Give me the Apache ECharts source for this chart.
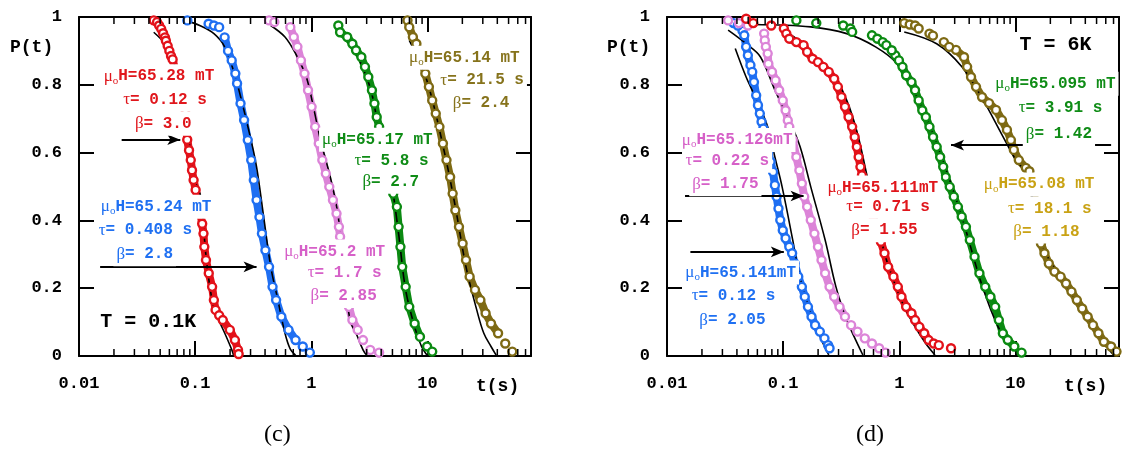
<!DOCTYPE html>
<html><head><meta charset="utf-8">
<script src="https://cdn.jsdelivr.net/npm/echarts@6/dist/echarts.min.js"></script>
<style>html,body{margin:0;padding:0;background:#fff}#main{width:1125px;height:457px}</style>
</head><body><div id="main"></div>
<script>
// ================= DATA =================
const xTickValues = [0.01, 0.1, 1, 10];
const xTickLabels = ['0.01', '0.1', '1', '10'];
const yTickLabels = ['0', '0.2', '0.4', '0.6', '0.8', '1'];
const minorTickValues = [0.02,0.03,0.04,0.05,0.06,0.07,0.08,0.09,0.2,0.3,0.4,0.5,0.6,0.7,0.8,0.9,2,3,4,5,6,7,8,9,20,30,40,50,60,70];

// ---- panel (c), T = 0.1 K ----
const c_red_pts = [[0.044,0.99],[0.047,0.985],[0.049,0.975],[0.051,0.965],[0.053,0.952],[0.055,0.94],[0.056,0.93],[0.058,0.915],[0.060,0.90],[0.062,0.885],[0.064,0.875],
  [0.0826,0.715],[0.0838,0.676],[0.0855,0.638],[0.0886,0.607],[0.0917,0.578],[0.094,0.548],[0.097,0.519],[0.101,0.49],[0.106,0.46],[0.110,0.43],
  [0.115,0.39],[0.118,0.361],[0.120,0.322],[0.124,0.283],[0.131,0.244],[0.140,0.204],[0.145,0.165],[0.150,0.136],[0.161,0.12],[0.173,0.106],[0.199,0.077],[0.22,0.047],[0.234,0.018],[0.237,0.006]];
const c_red_open = [];
const c_red_fit = [[0.044,0.955],[0.055,0.92],[0.066,0.862],[0.08,0.72],[0.088,0.64],[0.099,0.52],[0.112,0.47],[0.118,0.38],[0.126,0.273],[0.14,0.165],[0.155,0.116],[0.18,0.067],[0.207,0.018],[0.214,0.003]];

const c_blue_pts = [[0.1795,0.94],[0.192,0.90],[0.2065,0.872],[0.222,0.833],[0.2297,0.804],[0.246,0.745],[0.264,0.696],[0.284,0.637],[0.304,0.578],[0.32,0.519],[0.338,0.46],[0.358,0.41],[0.376,0.361],[0.403,0.312],[0.433,0.263],[0.464,0.204],[0.498,0.165],[0.553,0.116],[0.637,0.077],[0.733,0.047]];
const c_blue_open = [[0.0857,0.99],[0.1306,0.98],[0.1452,0.975],[0.161,0.97],[0.845,0.028],[0.972,0.01]];
const c_blue_fit = [[0.0826,0.99],[0.1096,0.975],[0.1452,0.951],[0.1795,0.912],[0.222,0.823],[0.294,0.656],[0.338,0.558],[0.389,0.411],[0.448,0.263],[0.516,0.165],[0.594,0.067],[0.66,0.02],[0.733,0.002]];

const c_pink_pts = [[0.66,0.97],[0.707,0.941],[0.76,0.912],[0.815,0.872],[0.875,0.833],[0.938,0.784],[1.007,0.735],[1.08,0.676],[1.16,0.627],[1.245,0.578],[1.334,0.538],[1.43,0.499],[1.537,0.46],[1.65,0.42],[1.73,0.381],[1.77,0.352],[1.83,0.31],[1.9,0.263],[1.96,0.214],[2.03,0.175],[2.11,0.145],[2.26,0.106],[2.51,0.077]];
const c_pink_open = [[0.433,0.99],[0.481,0.985],[2.79,0.047],[3.22,0.018],[3.84,0.01]];
const c_pink_fit = [[0.448,0.975],[0.594,0.941],[0.733,0.892],[0.906,0.823],[1.043,0.735],[1.2,0.637],[1.48,0.519],[1.71,0.41],[1.97,0.2],[2.18,0.1],[2.43,0.067],[2.79,0.018],[3.0,0.002]];

const c_green_pts = [[1.71,0.975],[1.77,0.955],[2.04,0.941],[2.26,0.921],[2.43,0.902],[2.70,0.882],[2.90,0.853],[3.1,0.823],[3.33,0.784],[3.5,0.745],[3.66,0.705],[3.84,0.676],[4.12,0.627],[4.42,0.578],[4.74,0.528],[5.08,0.479],[5.46,0.44],[5.65,0.381],[5.86,0.322],[6.07,0.263],[6.5,0.204],[6.98,0.145],[7.76,0.096],[8.63,0.057]];
const c_green_open = [[9.94,0.028],[11.0,0.013]];
const c_green_fit = [[1.77,0.955],[2.43,0.892],[3.2,0.794],[3.7,0.695],[4.9,0.509],[5.65,0.361],[6.5,0.194],[7.76,0.086],[8.9,0.028],[9.94,0.002]];

const c_brown_pts = [[6.74,0.99],[6.98,0.97],[7.5,0.941],[8.04,0.921],[8.8,0.88],[9.6,0.833],[10.3,0.794],[11.0,0.754],[11.8,0.715],[12.7,0.676],[13.6,0.627],[14.6,0.578],[15.7,0.528],[16.5,0.479],[17.4,0.43],[18.7,0.381],[20.1,0.332],[21.5,0.283],[23.1,0.234],[25.7,0.195],[28.6,0.165],[31.7,0.126],[35.3,0.096],[40.6,0.067]];
const c_brown_open = [[46.8,0.037],[53.8,0.013]];
const c_brown_fit = [[6.98,0.931],[9.9,0.813],[14.1,0.597],[17.4,0.44],[21.5,0.263],[26.6,0.136],[30.6,0.067],[35.3,0.028],[39.2,0.002]];

// ---- panel (d), T = 6 K ----
const d_blue_pts = [[0.0447,0.959],[0.0463,0.946],[0.048,0.912],[0.0497,0.887],[0.0523,0.858],[0.0542,0.838],[0.0561,0.808],[0.0586,0.769],[0.0607,0.74],[0.063,0.715],[0.0652,0.691],[0.0676,0.671],[0.071,0.637],[0.0746,0.602],[0.078,0.573],[0.0819,0.543],[0.0849,0.504],[0.0879,0.47],[0.0912,0.435],[0.0945,0.401],[0.0993,0.371],[0.105,0.347],[0.113,0.322],[0.1195,0.303],[0.1257,0.273],[0.135,0.234],[0.145,0.204],[0.1535,0.175],[0.1636,0.145],[0.1757,0.116],[0.1887,0.091],[0.207,0.072]];
const d_blue_open = [[0.0374,0.982],[0.0407,0.975],[0.227,0.052],[0.244,0.032],[0.251,0.023]];
const d_blue_fit = [[0.0387,0.907],[0.048,0.823],[0.0594,0.754],[0.0736,0.676],[0.0849,0.587],[0.098,0.499],[0.121,0.342],[0.139,0.234],[0.173,0.126],[0.2144,0.047],[0.247,0.003]];

const d_pink_pts = [[0.0686,0.951],[0.0695,0.931],[0.071,0.912],[0.0736,0.892],[0.0746,0.862],[0.0802,0.838],[0.0861,0.813],[0.0925,0.784],[0.0993,0.754],[0.105,0.725],[0.1097,0.695],[0.113,0.676],[0.121,0.637],[0.13,0.587],[0.138,0.548],[0.145,0.509],[0.152,0.47],[0.161,0.44],[0.173,0.401],[0.186,0.361],[0.1995,0.322],[0.214,0.283],[0.23,0.244],[0.251,0.204],[0.275,0.175],[0.306,0.145],[0.341,0.116]];
const d_pink_open = [[0.0336,0.99],[0.0416,0.982],[0.0497,0.975],[0.385,0.091],[0.437,0.072],[0.505,0.052],[0.582,0.037],[0.671,0.023],[0.762,0.01]];
const d_pink_fit = [[0.0336,0.961],[0.048,0.921],[0.0638,0.882],[0.085,0.784],[0.113,0.695],[0.14,0.617],[0.173,0.499],[0.23,0.342],[0.285,0.204],[0.353,0.106],[0.422,0.047],[0.486,0.003]];

const d_red_pts = [[0.1014,0.966],[0.1066,0.951],[0.113,0.936],[0.130,0.926],[0.150,0.917],[0.161,0.897],[0.1795,0.877],[0.1995,0.867],[0.222,0.853],[0.247,0.838],[0.275,0.818],[0.296,0.794],[0.318,0.764],[0.341,0.735],[0.366,0.705],[0.393,0.676],[0.413,0.646],[0.431,0.617],[0.447,0.587],[0.463,0.558],[0.477,0.533],[0.512,0.494],[0.55,0.455],[0.59,0.416],[0.647,0.371],[0.695,0.337],[0.746,0.303],[0.802,0.263],[0.891,0.234],[0.972,0.204],[1.045,0.175],[1.146,0.145],[1.274,0.126],[1.368,0.106],[1.49,0.086],[1.64,0.067],[1.79,0.047]];
const d_red_open = [[0.048,0.995],[0.0553,0.982],[0.079,0.975],[1.98,0.037],[2.19,0.032],[2.79,0.023]];
const d_red_fit = [[0.098,0.961],[0.13,0.936],[0.173,0.892],[0.265,0.833],[0.353,0.754],[0.437,0.656],[0.523,0.538],[0.625,0.42],[0.746,0.303],[0.891,0.224],[1.104,0.145],[1.368,0.086],[1.69,0.037],[2.03,0.003]];

const d_green_pts = [[0.925,0.887],[0.993,0.872],[1.066,0.853],[1.146,0.828],[1.274,0.808],[1.368,0.784],[1.469,0.754],[1.578,0.725],[1.694,0.705],[1.82,0.676],[1.954,0.646],[2.1,0.617],[2.25,0.587],[2.39,0.558],[2.51,0.528],[2.72,0.499],[2.95,0.47],[3.2,0.44],[3.45,0.411],[3.75,0.381],[4.05,0.342],[4.45,0.293],[4.9,0.244],[5.5,0.204],[6.1,0.175],[6.7,0.145],[7.2,0.106],[7.8,0.067],[8.6,0.047],[9.8,0.028]];
const d_green_open = [[0.130,0.99],[0.193,0.982],[0.329,0.975],[0.379,0.966],[0.393,0.956],[0.582,0.946],[0.647,0.936],[0.721,0.926],[0.774,0.917],[0.861,0.902],[11.3,0.01]];
const d_green_fit = [[0.0553,0.978],[0.173,0.971],[0.353,0.951],[0.625,0.912],[0.957,0.862],[1.469,0.754],[2.25,0.597],[3.46,0.41],[5.1,0.214],[7.1,0.086],[9.4,0.028],[10.8,0.003]];

const d_brown_pts = [[3.08,0.903],[3.61,0.882],[3.84,0.853],[4.15,0.823],[4.58,0.794],[5.16,0.764],[5.93,0.746],[6.81,0.726],[7.66,0.696],[8.46,0.667],[9.15,0.637],[9.7,0.608],[10.7,0.578],[12.3,0.555],[13.2,0.545],[14.2,0.499],[15.0,0.44],[16.0,0.381],[16.6,0.332],[17.8,0.303],[19.4,0.273],[21.7,0.249],[24.5,0.234],[27.3,0.214],[30.4,0.19],[33.8,0.165],[37.6,0.14],[41.9,0.116],[46.6,0.091],[51.9,0.067],[57.8,0.042],[66.7,0.028]];
const d_brown_open = [[1.104,0.982],[1.23,0.978],[1.368,0.975],[1.469,0.966],[1.82,0.951],[1.95,0.945],[2.42,0.926],[2.69,0.912],[74.2,0.013]];
const d_brown_fit = [[1.104,0.956],[2.1,0.921],[3.46,0.853],[5.3,0.754],[7.57,0.656],[10.1,0.578],[12.5,0.538],[17.2,0.322],[25.5,0.224],[36.3,0.145],[51.9,0.067],[64.3,0.018],[70,0.003]];

// ---- annotation texts ----
const c_red_text   = ['μoH=65.28 mT', 'τ= 0.12 s', 'β= 3.0'];
const c_blue_text  = ['μoH=65.24 mT', 'τ= 0.408 s', 'β= 2.8'];
const c_pink_text  = ['μoH=65.2 mT', 'τ= 1.7 s', 'β= 2.85'];
const c_green_text = ['μoH=65.17 mT', 'τ= 5.8 s', 'β= 2.7'];
const c_brown_text = ['μoH=65.14 mT', 'τ= 21.5 s', 'β= 2.4'];
const c_temp_text  = 'T = 0.1K';
const d_pink_text  = ['μoH=65.126mT', 'τ= 0.22 s', 'β= 1.75'];
const d_red_text   = ['μoH=65.111mT', 'τ= 0.71 s', 'β= 1.55'];
const d_blue_text  = ['μoH=65.141mT', 'τ= 0.12 s', 'β= 2.05'];
const d_green_text = ['μoH=65.095 mT', 'τ= 3.91 s', 'β= 1.42'];
const d_brown_text = ['μoH=65.08 mT', 'τ= 18.1 s', 'β= 1.18'];
const d_temp_text  = 'T = 6K';
const panelCaptions = ['(c)', '(d)'];

// ================= LAYOUT / STYLE =================
const COL = { red:'#e3121a', blue:'#1f6ff2', pink:'#dc84d8', green:'#0b8a12', brown:'#7e6a14' };
const TXT = { red:'#e0161c', blue:'#1f70f2', pink:'#d660c8', green:'#0f8c16', brown:'#86731c', gold:'#c9a214', black:'#000' };
// label anchors (data coordinates: [t, P]) for each text line
const c_labelPos = {
  red:[[0.0488,0.825],[0.055,0.756],[0.0531,0.685]],
  blue:[[0.0461,0.440],[0.0373,0.371],[0.0368,0.300]],
  pink:[[1.59,0.308],[1.94,0.246],[1.90,0.177]],
  green:[[3.71,0.638],[4.91,0.576],[4.84,0.514]],
  brown:[[20.8,0.880],[29.6,0.813],[29.0,0.746]],
  temp:[0.0395,0.101]
};
const d_labelPos = {
  pink:[[0.0402,0.637],[0.0331,0.576],[0.0318,0.507]],
  red:[[0.721,0.497],[0.802,0.44],[0.746,0.371]],
  blue:[[0.0431,0.246],[0.0374,0.177],[0.0366,0.106]],
  green:[[22.1,0.803],[24.5,0.733],[23.7,0.654]],
  brown:[[16.0,0.506],[19.8,0.435],[18.5,0.367]],
  temp:[22.1,0.917]
};
const c_arrows = [[[0.0233,0.638],[0.0745,0.638]], [[0.0152,0.263],[0.338,0.263]]];
const d_arrows = [[[0.0143,0.472],[0.150,0.472]], [[0.0159,0.307],[0.1014,0.307]], [[66.7,0.622],[2.79,0.622]]];

const MONO = 'Liberation Mono';
const SERIF = 'Liberation Serif';

function tickFmt(v){
  for (let i = 0; i < xTickValues.length; i++) {
    if (Math.abs(Math.log10(v) - Math.log10(xTickValues[i])) < 1e-3) return xTickLabels[i];
  }
  return '';
}
function xAxisDef(g, pos, show){
  return {type:'log', logBase:10, gridIndex:g, position:pos, min:0.01, max:78, splitNumber:4,
    axisLine:{show:true, onZero:false, lineStyle:{color:'#000', width:2}},
    axisTick:{show:true, inside:true, length:15, lineStyle:{color:'#000', width:2}},
    axisLabel:{show:show, margin:19, fontFamily:MONO, fontWeight:'bold', fontSize:17, color:'#000', formatter:tickFmt},
    splitLine:{show:false}, minorTick:{show:false}};
}
function yAxisDef(g, pos, show){
  return {type:'value', gridIndex:g, position:pos, min:0, max:1, interval:0.2,
    axisLine:{show:true, onZero:false, lineStyle:{color:'#000', width:2}},
    axisTick:{show:true, inside:true, length:15, lineStyle:{color:'#000', width:2}},
    axisLabel:{show:show, margin:17, fontFamily:MONO, fontWeight:'bold', fontSize:17, color:'#000',
      showMinLabel:true, showMaxLabel:true, hideOverlap:false,
      formatter:(v)=>yTickLabels[Math.round(v/0.2)]},
    splitLine:{show:false}};
}

function curveSeries(g, col, pts, open, fit){
  const ax = {xAxisIndex:g*2, yAxisIndex:g*2, silent:true, animation:false};
  return [
    Object.assign({type:'line', data:pts, symbol:'none', showSymbol:false, z:1,
      lineStyle:{color:COL[col], width:8, cap:'round', join:'round', opacity:1}}, ax),
    Object.assign({type:'line', data:fit, symbol:'none', showSymbol:false, smooth:0.35, z:2,
      lineStyle:{color:'#000', width:1.6, opacity:1}}, ax),
    Object.assign({type:'scatter', data:pts.concat(open), symbol:'circle', symbolSize:8, z:3, clip:false,
      itemStyle:{color:'#fff', borderColor:COL[col], borderWidth:2.4, opacity:1}}, ax)
  ];
}

const RICH = {
  g:{fontFamily:SERIF, fontSize:17, lineHeight:20},
  s:{fontFamily:SERIF, fontSize:11, verticalAlign:'bottom'},
  m:{fontFamily:MONO, fontWeight:'bold', fontSize:16, lineHeight:20},
  b:{fontFamily:MONO, fontWeight:'bold', fontSize:20, lineHeight:22}
};
function richText(txt){
  if (txt.startsWith('μo')) return '{g|μ}{s|o}{m|' + txt.slice(2) + '}';
  if (txt.startsWith('τ') || txt.startsWith('β')) return '{g|' + txt[0] + '}{m|' + txt.slice(1) + '}';
  return '{b|' + txt + '}';
}
function labelItems(texts, positions, color, bg){
  return texts.map((t, i) => ({value:positions[i], label:{show:true, position:'inside', formatter:richText(t),
    color:color, opacity:1, backgroundColor:bg ? '#fff' : 'transparent', padding:[2,3,2,3], rich:RICH}}));
}
function annoSeries(g, items, arrows){
  return {type:'scatter', xAxisIndex:g*2, yAxisIndex:g*2, z:10, silent:true, animation:false, clip:false,
    symbol:'circle', symbolSize:1, itemStyle:{color:'rgba(0,0,0,0)', opacity:1},
    labelLayout:{hideOverlap:false},
    data:items,
    markLine:{silent:true, animation:false, symbol:['none','arrow'], symbolSize:[8,13], label:{show:false},
      lineStyle:{color:'#000', width:2, type:'solid', opacity:1},
      data:arrows.map(a => [{coord:a[0]}, {coord:a[1]}])}};
}
function minorTickSeries(g){
  const ax = {xAxisIndex:g*2, yAxisIndex:g*2, silent:true, animation:false, clip:false, z:4, symbol:'rect', itemStyle:{color:'#000', opacity:1}};
  return [
    Object.assign({type:'scatter', data:minorTickValues.map(v => [v, 0]), symbolSize:[1.5,7], symbolOffset:[0,-3.5]}, ax),
    Object.assign({type:'scatter', data:minorTickValues.map(v => [v, 1]), symbolSize:[1.5,7], symbolOffset:[0,3.5]}, ax)
  ];
}

const series = [].concat(
  curveSeries(0,'red',c_red_pts,c_red_open,c_red_fit),
  curveSeries(0,'blue',c_blue_pts,c_blue_open,c_blue_fit),
  curveSeries(0,'pink',c_pink_pts,c_pink_open,c_pink_fit),
  curveSeries(0,'green',c_green_pts,c_green_open,c_green_fit),
  curveSeries(0,'brown',c_brown_pts,c_brown_open,c_brown_fit),
  curveSeries(1,'blue',d_blue_pts,d_blue_open,d_blue_fit),
  curveSeries(1,'pink',d_pink_pts,d_pink_open,d_pink_fit),
  curveSeries(1,'red',d_red_pts,d_red_open,d_red_fit),
  curveSeries(1,'green',d_green_pts,d_green_open,d_green_fit),
  curveSeries(1,'brown',d_brown_pts,d_brown_open,d_brown_fit),
  minorTickSeries(0), minorTickSeries(1),
  [annoSeries(0, [].concat(
      labelItems(c_red_text, c_labelPos.red, TXT.red, true),
      labelItems(c_blue_text, c_labelPos.blue, TXT.blue, true),
      labelItems(c_pink_text, c_labelPos.pink, TXT.pink, true),
      labelItems(c_green_text, c_labelPos.green, TXT.green, true),
      labelItems(c_brown_text, c_labelPos.brown, TXT.brown, true),
      labelItems([c_temp_text], [c_labelPos.temp], TXT.black, false)), c_arrows),
   annoSeries(1, [].concat(
      labelItems(d_pink_text, d_labelPos.pink, TXT.pink, true),
      labelItems(d_red_text, d_labelPos.red, TXT.red, true),
      labelItems(d_blue_text, d_labelPos.blue, TXT.blue, true),
      labelItems(d_green_text, d_labelPos.green, TXT.green, true),
      labelItems(d_brown_text, d_labelPos.brown, TXT.gold, true),
      labelItems([d_temp_text], [d_labelPos.temp], TXT.black, false)), d_arrows)]
);

const chart = echarts.init(document.getElementById('main'), null, {renderer:'canvas'});
chart.setOption({
  animation:false,
  backgroundColor:'#fff',
  grid:[{left:79, top:17, width:452, height:339}, {left:667, top:17, width:452, height:339}],
  xAxis:[xAxisDef(0,'bottom',true), xAxisDef(0,'top',false), xAxisDef(1,'bottom',true), xAxisDef(1,'top',false)],
  yAxis:[yAxisDef(0,'left',true), yAxisDef(0,'right',false), yAxisDef(1,'left',true), yAxisDef(1,'right',false)],
  series:series,
  graphic:[
    {type:'text', left:10, top:38, style:{text:'P(t)', font:'bold 18px "Liberation Mono"', fill:'#000'}},
    {type:'text', left:607, top:38, style:{text:'P(t)', font:'bold 18px "Liberation Mono"', fill:'#000'}},
    {type:'text', left:476, top:377, style:{text:'t(s)', font:'bold 18px "Liberation Mono"', fill:'#000'}},
    {type:'text', left:1064, top:377, style:{text:'t(s)', font:'bold 18px "Liberation Mono"', fill:'#000'}},
    {type:'text', left:264, top:423, style:{text:panelCaptions[0], font:'24px "Liberation Serif"', fill:'#000'}},
    {type:'text', left:856, top:423, style:{text:panelCaptions[1], font:'24px "Liberation Serif"', fill:'#000'}}
  ]
});
</script></body></html>
